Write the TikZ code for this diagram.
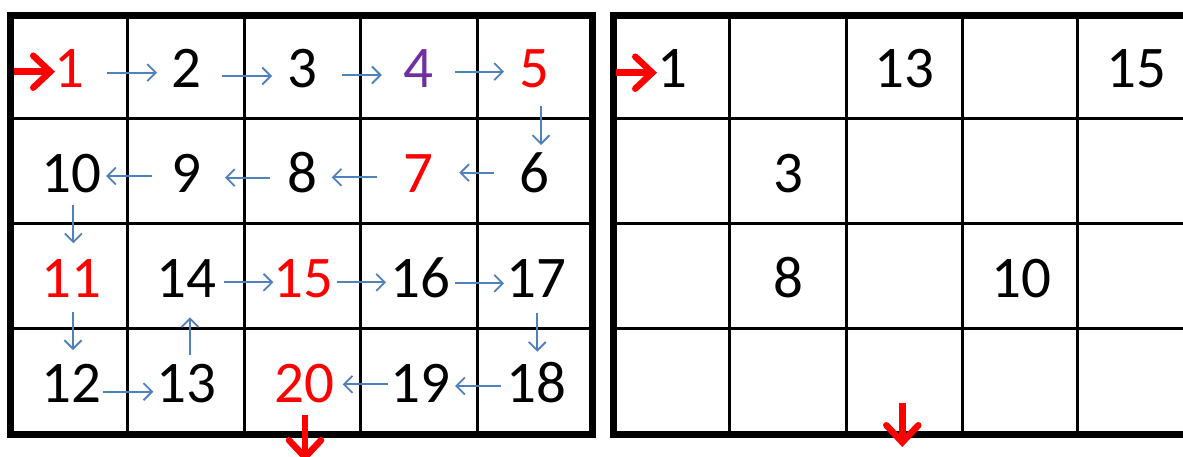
\documentclass[tikz,border=0pt]{standalone}
\usepackage{fontspec}
\setmainfont{Carlito}
\usetikzlibrary{arrows.meta}
\definecolor{flowblue}{HTML}{4F81BD}
\definecolor{numpurple}{HTML}{7030A0}
\definecolor{numred}{HTML}{FF0000}
\tikzset{
  num/.style={inner sep=0pt, text height=37pt, text depth=0pt, font=\fontsize{59}{59}\selectfont},
  flow/.style={draw=flowblue, line width=1.8pt, -{Straight Barb[length=8.5pt,width=17pt]}},
  redarrow/.style={draw=numred, line width=6.5pt, -{Straight Barb[length=17pt,width=32pt,line cap=round]}},
  gridline/.style={line width=3pt},
  gridframe/.style={line width=7pt},
}
\begin{document}
\begin{tikzpicture}[x=1pt,y=-1pt]
\useasboundingbox (0,0) rectangle (1183,457);
\clip (0,0) rectangle (1183,457);
\fill[white] (0,0) rectangle (1183,457);
% ---------- left grid ----------
\foreach \x in {127.5,244.5,360.5,477} \draw[gridline] (\x,15.5) -- (\x,434);
\foreach \y in {118.5,223.5,328.5} \draw[gridline] (10.7,\y) -- (592,\y);
\draw[gridframe] (10.7,15.5) rectangle (592,434);
% numbers
\node[num, text=numred]    (a1)  at (69,69)     {1};
\node[num]                 (a2)  at (186,69)    {2};
\node[num]                 (a3)  at (302.5,69)  {3};
\node[num, text=numpurple] (a4)  at (418.75,69) {4};
\node[num, text=numred]    (a5)  at (534.5,69)  {5};
\node[num]                 (a6)  at (534.5,174) {6};
\node[num, text=numred]    (a7)  at (418.75,174){7};
\node[num]                 (a8)  at (302.5,174) {8};
\node[num]                 (a9)  at (186,174)   {9};
\node[num]                 (a10) at (71,174)    {10};
\node[num, text=numred]    (a11) at (71,279)    {11};
\node[num]                 (a12) at (71,384)    {12};
\node[num]                 (a13) at (186.5,384) {13};
\node[num]                 (a14) at (186.5,279) {14};
\node[num, text=numred]    (a15) at (303,279)   {15};
\node[num]                 (a16) at (420,279)   {16};
\node[num]                 (a17) at (536.5,279) {17};
\node[num]                 (a18) at (536.5,384) {18};
\node[num]                 (a19) at (420,384)   {19};
\node[num, text=numred]    (a20) at (304,384)   {20};
% flow arrows
\draw[flow, shorten <=38pt, shorten >=29pt]   ([yshift=-3.7pt]a1.center) -- ([yshift=-3.7pt]a2.center);
\draw[flow, shorten <=36pt, shorten >=30.5pt] ([yshift=-7pt]a2.center) -- ([yshift=-7pt]a3.center);
\draw[flow, shorten <=39pt, shorten >=37pt]   ([yshift=-6pt]a3.center) -- ([yshift=-6pt]a4.center);
\draw[flow, shorten <=36pt, shorten >=30.5pt] ([yshift=-2.7pt]a4.center) -- ([yshift=-2.7pt]a5.center);
\draw[flow, shorten <=37pt, shorten >=29pt]   ([xshift=6.5pt]a5.center) -- ([xshift=6.5pt]a6.center);
\draw[flow, shorten <=40.5pt, shorten >=40.5pt] ([yshift=1.3pt]a6.center) -- ([yshift=1.3pt]a7.center);
\draw[flow, shorten <=41.5pt, shorten >=29.2pt] ([yshift=-3.3pt]a7.center) -- ([yshift=-3.3pt]a8.center);
\draw[flow, shorten <=32.5pt, shorten >=39pt]   ([yshift=-3.7pt]a8.center) -- ([yshift=-3.7pt]a9.center);
\draw[flow, shorten <=34.3pt, shorten >=35pt]   ([yshift=-2pt]a9.center) -- ([yshift=-2pt]a10.center);
\draw[flow, shorten <=31pt, shorten >=35.7pt]   ([xshift=2.3pt]a10.center) -- ([xshift=2.3pt]a11.center);
\draw[flow, shorten <=32.7pt, shorten >=34pt]   ([xshift=2pt]a11.center) -- ([xshift=2pt]a12.center);
\draw[flow, shorten <=32.3pt, shorten >=33.2pt] ([yshift=-7.7pt]a12.center) -- ([yshift=-7.7pt]a13.center);
\draw[flow, shorten <=29pt, shorten >=38.3pt]   ([xshift=3.5pt]a13.center) -- ([xshift=3.5pt]a14.center);
\draw[flow, shorten <=37.5pt, shorten >=29.7pt] ([yshift=-3.3pt]a14.center) -- ([yshift=-3.3pt]a15.center);
\draw[flow, shorten <=33.7pt, shorten >=34pt]   ([yshift=-3.3pt]a15.center) -- ([yshift=-3.3pt]a16.center);
\draw[flow, shorten <=35pt, shorten >=32.5pt]   ([yshift=-4.3pt]a16.center) -- ([yshift=-4.3pt]a17.center);
\draw[flow, shorten <=34.3pt, shorten >=32.3pt] ([xshift=0.8pt]a17.center) -- ([xshift=0.8pt]a18.center);
\draw[flow, shorten <=35.8pt, shorten >=35pt]   ([yshift=-2pt]a18.center) -- ([yshift=-2pt]a19.center);
\draw[flow, shorten <=31.7pt, shorten >=38.7pt] ([yshift=-0.3pt]a19.center) -- ([yshift=-0.3pt]a20.center);
% entry / exit
\coordinate (inL) at (14,71.7);
\coordinate (outL) at (305,462);
\draw[redarrow, shorten >=14pt] (inL) -- ([yshift=-2.7pt]a1.center);
\draw[redarrow, shorten <=31pt] ([xshift=1pt]a20.center) -- (outL);
% ---------- right grid ----------
\foreach \x in {729.5,846,962.5,1077} \draw[gridline] (\x,15.5) -- (\x,434);
\foreach \y in {118.5,223.5,328.5} \draw[gridline] (613,\y) -- (1194.3,\y);
\draw[gridframe] (613,15.5) rectangle (1194.3,434);
\node[num] (b1)  at (672,69)     {1};
\node[num] (b13) at (904.5,69)   {13};
\node[num] (b15) at (1136,69)    {15};
\node[num] (b3)  at (788,174)    {3};
\node[num] (b8)  at (788.5,279)  {8};
\node[num] (b10) at (1021,279)   {10};
\coordinate (inR) at (616,72.7);
\coordinate (outRs) at (902.3,403);
\coordinate (outRe) at (902.3,447);
\draw[redarrow, shorten >=15pt] (inR) -- ([yshift=-3.7pt]b1.center);
\draw[redarrow] (outRs) -- (outRe);
\end{tikzpicture}
\end{document}
